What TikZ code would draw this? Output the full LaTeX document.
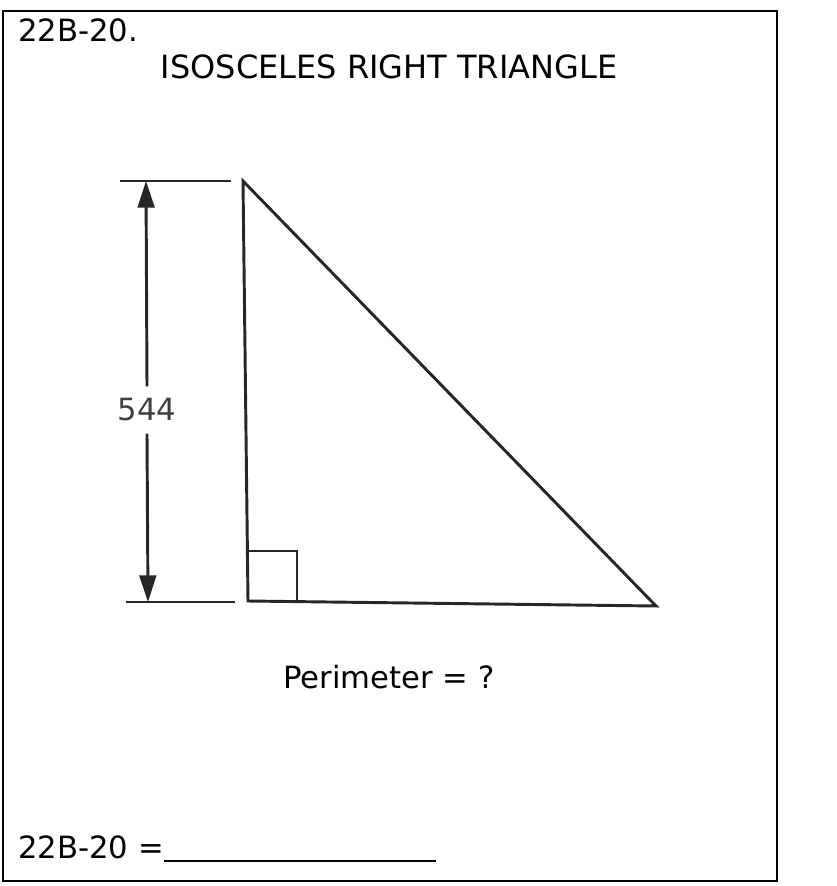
\documentclass[tikz,border=0pt]{standalone}
\usepackage{fontspec}
\setmainfont{DejaVu Sans}
\usetikzlibrary{arrows.meta}
\tikzstyle{txt} = [inner sep=0pt, font=\fontsize{23}{27}\selectfont]
\tikzstyle{ln} = [line width=2.2pt, black!85]
\tikzset{dim/.style = {
    line width=2.2pt, black!85,
    -{Triangle[length=20pt,width=12.5pt]},
  }
}

\begin{document}
\begin{tikzpicture}[x=0.75pt, y=-0.75pt]
            \useasboundingbox (0,0) rectangle (836,886);
            % frame
            \draw[line width=1.5pt] (3,11) rectangle (777,881);

            % texts
            \node[txt, anchor=base west] (num) at (18,41) {22B-20.};
            \node[txt, anchor=base, font=\fontsize{24}{28}\selectfont] (title) at (389,78) {ISOSCELES RIGHT TRIANGLE};
            \node[txt, anchor=base] (per) at (389,688) {Perimeter = ?};
            \node[txt, anchor=base west] (ans) at (18,858) {22B-20 =\rule[-3pt]{204pt}{1.5pt}};

            % triangle
            \coordinate (a) at (243,181);
            \coordinate (b) at (248,601);
            \coordinate (c) at (656,606);
            \draw[ln, line join=miter] (a) -- (b) -- (c) -- cycle;
            \draw[ln] (248,551) -- (297,551) -- (297,601);

            % dimension
            \coordinate (d1) at (146,181);
            \coordinate (d2) at (148,602);
            \draw[ln] (120,181) -- (231,181);
            \draw[ln] (126,602) -- (235,602);
            \node[txt, inner xsep=4pt, inner ysep=9pt, black!75] (len) at (147,410) {544};
            \draw[dim] (len.north) -- (d1);
            \draw[dim] (len.south) -- (d2);
\end{tikzpicture}
\end{document}
